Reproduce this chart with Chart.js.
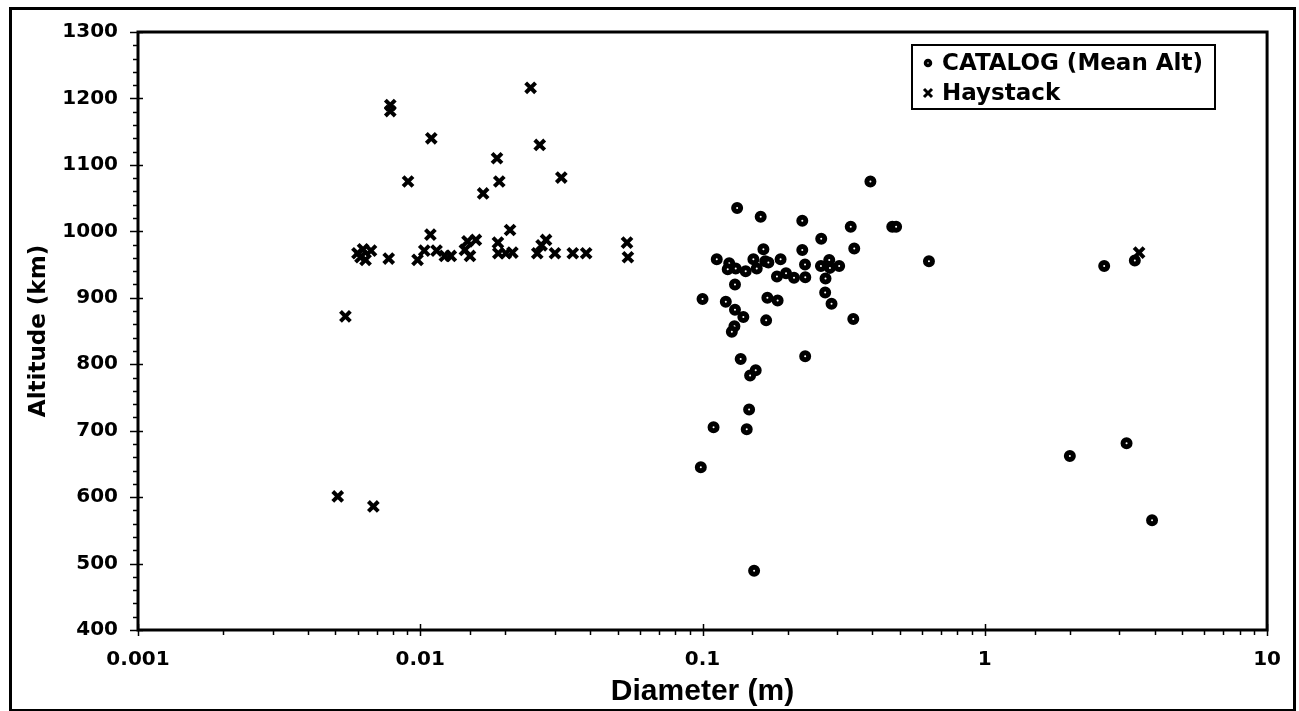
<!DOCTYPE html>
<html><head><meta charset="utf-8">
<script src="https://cdn.jsdelivr.net/npm/chart.js@4/dist/chart.umd.min.js"></script>
<style>html,body{margin:0;padding:0;background:#fff}#wrap{width:1299px;height:711px;position:relative}</style>
</head><body><div id="wrap"><canvas id="c" width="1299" height="711"></canvas></div>
<script>
const seriesLabels = ['CATALOG (Mean Alt)', 'Haystack'];
const catalogDiameter = [0.3933,0.1326,0.1607,0.2256,0.335,0.47,0.485,0.2633,0.3447,0.2256,0.1643,0.1123,0.1243,0.1228,0.1311,0.1422,0.1514,0.1556,0.1667,0.1711,0.189,0.1835,0.1976,0.2109,0.2307,0.2312,0.2627,0.2811,0.2827,0.3048,0.2727,0.2719,0.2864,0.1303,0.1,0.1209,0.1697,0.1845,0.1303,0.1395,0.168,0.342,0.1297,0.127,0.1365,0.231,0.1474,0.1543,0.1462,0.1094,0.1434,0.0986,0.1523,0.634,2.648,3.40,3.178,2.001,3.913];
const catalogAltitude = [1075,1035,1022,1016,1007,1007,1007,989,974,972,973,958,952,943,944,940,958,944,955,953,958,932,937,930,950,931,948,957,945,948,929,908,891,920,898,894,900,896,882,871,866,868,857,849,808,812,783,791,732,705,702,645,489,955,948,956,681,662,565];
const haystackDiameter = [0.0246,0.00783,0.00783,0.01094,0.0265,0.0187,0.00905,0.01905,0.0316,0.0167,0.0208,0.01086,0.00543,0.00599,0.0064,0.00627,0.00669,0.00614,0.00773,0.00978,0.01033,0.01142,0.01222,0.01283,0.01439,0.0150,0.0147,0.01574,0.01884,0.0189,0.0201,0.0212,0.02597,0.0269,0.0279,0.030,0.0347,0.0387,0.054,0.0544,0.0051,0.00682,3.52];
const haystackAltitude = [1216,1190,1181,1140,1130,1110,1075,1075,1081,1057,1002,995,872,967,957,973,971,961,959,957,971,971,963,963,972,963,985,987,983,967,967,968,967,979,987,967,967,967,983,961,601,586,968];
const xTickLabels = [0.001, 0.01, 0.1, 1, 10];
const yTickLabels = [400, 500, 600, 700, 800, 900, 1000, 1100, 1200, 1300];
const yMinorStep = 20;

const toPts = (xs, ys) => xs.map((v, i) => ({x: v, y: ys[i]}));
const isDecade = v => Math.abs(Math.log10(v) - Math.round(Math.log10(v))) < 1e-6;

const framePlugin = {
  id: 'frame',
  afterDraw(chart) {
    const ctx = chart.ctx;
    const {left, right, top, bottom} = chart.chartArea;
    const xs = chart.scales.x, ys = chart.scales.y;
    ctx.save();
    ctx.strokeStyle = '#000';
    ctx.lineCap = 'butt';
    ctx.lineWidth = 3;
    ctx.strokeRect(left, top, right - left, bottom - top);
    ctx.lineWidth = 1.5;
    const yMin = yTickLabels[0], yMax = yTickLabels[yTickLabels.length - 1];
    for (let v = yMin; v <= yMax; v += yMinorStep) {
      const py = Math.round(ys.getPixelForValue(v)) + 0.5;
      ctx.beginPath();
      if (yTickLabels.includes(v)) { ctx.moveTo(left - 8, py); ctx.lineTo(left + 5, py); }
      else { ctx.moveTo(left - 5, py); ctx.lineTo(left, py); }
      ctx.stroke();
    }
    xs.ticks.forEach(t => {
      const px = Math.round(xs.getPixelForValue(t.value)) + 0.5;
      ctx.beginPath();
      if (isDecade(t.value)) { ctx.moveTo(px, bottom - 6); ctx.lineTo(px, bottom + 6); }
      else { ctx.moveTo(px, bottom); ctx.lineTo(px, bottom + 5); }
      ctx.stroke();
    });
    ctx.lineWidth = 3;
    ctx.strokeRect(10.5, 8.5, 1284, 702);
    // legend
    const lx = 912, ly = 45, lw = 303, lh = 64;
    ctx.fillStyle = '#fff';
    ctx.fillRect(lx, ly, lw, lh);
    ctx.lineWidth = 2;
    ctx.strokeRect(lx, ly, lw, lh);
    ctx.font = 'bold 23px "DejaVu Sans"';
    ctx.textBaseline = 'middle';
    ctx.textAlign = 'left';
    const rows = [63, 93];
    ctx.beginPath(); ctx.arc(928, rows[0], 2.5, 0, Math.PI * 2);
    ctx.fillStyle = '#fff'; ctx.fill(); ctx.lineWidth = 3.5; ctx.stroke();
    ctx.lineWidth = 3; ctx.beginPath();
    ctx.moveTo(924, rows[1] - 4); ctx.lineTo(932, rows[1] + 4);
    ctx.moveTo(932, rows[1] - 4); ctx.lineTo(924, rows[1] + 4); ctx.stroke();
    ctx.fillStyle = '#000';
    ctx.fillText(chart.data.datasets[0].label, 942, rows[0] + 1);
    ctx.fillText(chart.data.datasets[1].label, 942, rows[1] + 1);
    ctx.restore();
  }
};

new Chart(document.getElementById('c'), {
  type: 'scatter',
  data: {
    datasets: [
      {label: seriesLabels[0], data: toPts(catalogDiameter, catalogAltitude), pointStyle: 'circle', radius: 3.5, borderWidth: 5, borderColor: '#000', backgroundColor: '#fff'},
      {label: seriesLabels[1], data: toPts(haystackDiameter, haystackAltitude), pointStyle: 'crossRot', radius: 7, borderWidth: 4, borderColor: '#000', backgroundColor: '#000'}
    ]
  },
  options: {
    responsive: false,
    animation: false,
    events: [],
    layout: {padding: {top: 31, right: 31, left: 0, bottom: 0}},
    plugins: {legend: {display: false}, tooltip: {enabled: false}},
    scales: {
      x: {
        type: 'logarithmic', min: xTickLabels[0], max: xTickLabels[xTickLabels.length - 1],
        afterFit(s) { s.height = 81; },
        grid: {display: true, drawOnChartArea: false, drawTicks: false},
        border: {display: false},
        ticks: {autoSkip: false, maxRotation: 0, padding: 18, color: '#000', font: {family: 'DejaVu Sans', weight: 'bold', size: 20},
          callback(v) { const m = xTickLabels.find(t => Math.abs(t - v) / t < 1e-6); return m !== undefined ? String(m) : ''; }},
        title: {display: true, text: 'Diameter (m)', color: '#000', font: {family: 'Liberation Sans', weight: 'bold', size: 30}, padding: {top: 0, bottom: 1}}
      },
      y: {
        min: yTickLabels[0], max: yTickLabels[yTickLabels.length - 1],
        afterFit(s) { s.width = 138; },
        afterBuildTicks(s) { s.ticks = yTickLabels.map(v => ({value: v})); },
        grid: {display: true, drawOnChartArea: false, drawTicks: false},
        border: {display: false},
        ticks: {padding: 20, color: '#000', font: {family: 'DejaVu Sans', weight: 'bold', size: 20}, callback: v => String(v)},
        title: {display: true, text: 'Altitude (km)', color: '#000', font: {family: 'DejaVu Sans', weight: 'bold', size: 23}, padding: {top: 25, bottom: 0}}
      }
    }
  },
  plugins: [framePlugin]
});
</script></body></html>
